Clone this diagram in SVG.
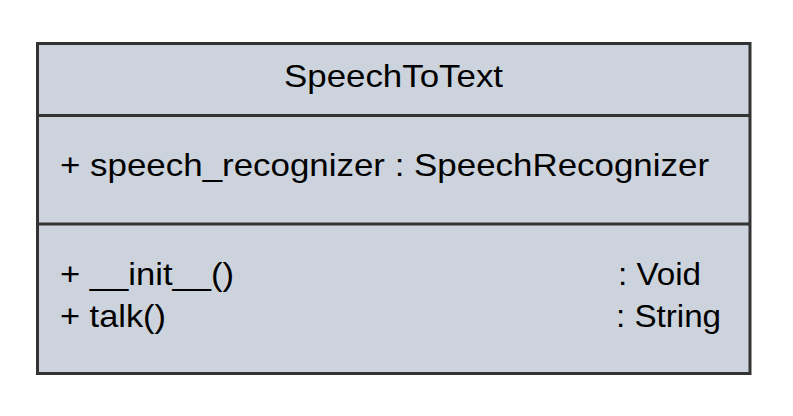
<svg xmlns="http://www.w3.org/2000/svg" width="793" height="416" viewBox="0 0 793 416">
<style>
.box{fill:#cdd3dc;stroke:#333333;stroke-width:3}
.ln{stroke:#333333;stroke-width:3}
text{font-family:"Liberation Sans",Arial,sans-serif;font-size:32px;fill:#000}
</style>
<rect width="793" height="416" fill="#ffffff"/>
<g id="SpeechToText">
<rect class="box" x="37.5" y="43.5" width="712.5" height="330"/>
<line class="ln" x1="37.5" y1="115.5" x2="750" y2="115.5"/>
<line class="ln" x1="37.5" y1="224" x2="750" y2="224"/>
<text x="284" y="87" textLength="219" lengthAdjust="spacingAndGlyphs">SpeechToText</text>
<text x="60" y="176" textLength="649" lengthAdjust="spacingAndGlyphs">+ speech_recognizer : SpeechRecognizer</text>
<text x="60" y="285" textLength="174" lengthAdjust="spacingAndGlyphs">+ __init__()</text>
<text x="60" y="327" textLength="106" lengthAdjust="spacingAndGlyphs">+ talk()</text>
<text x="618" y="285" textLength="83" lengthAdjust="spacingAndGlyphs">: Void</text>
<text x="616" y="327" textLength="105" lengthAdjust="spacingAndGlyphs">: String</text>
</g>
<g id="connectors"></g>
</svg>
